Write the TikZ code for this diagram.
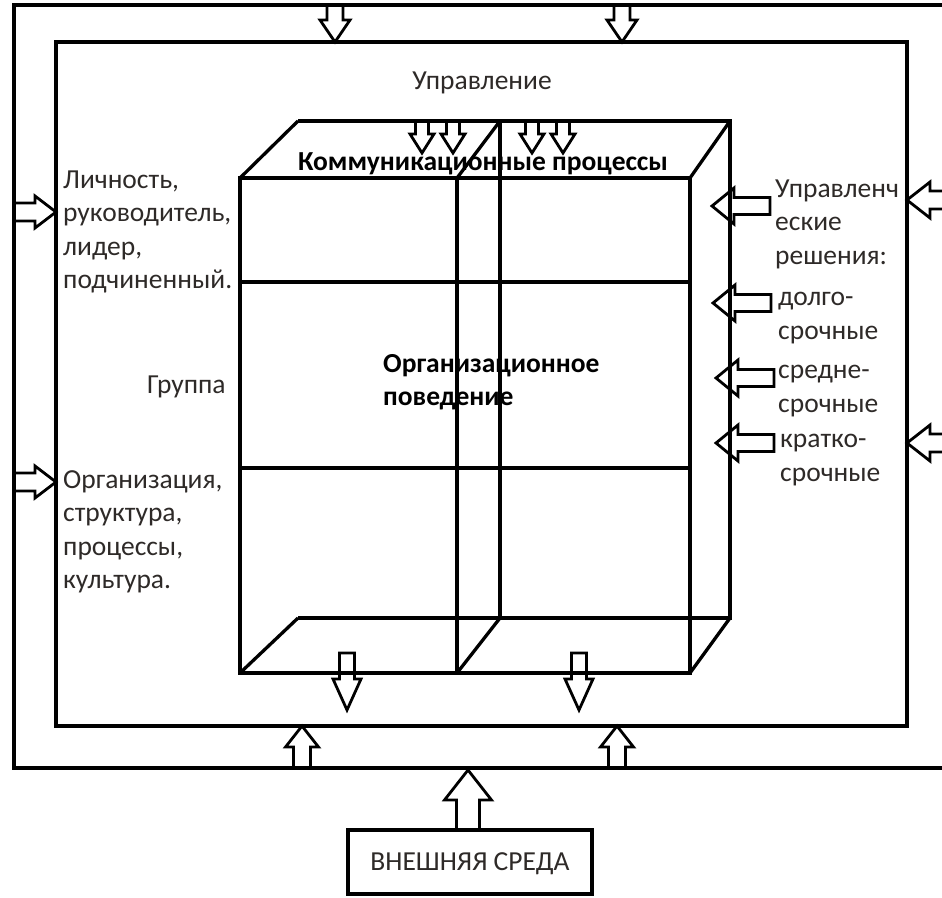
\documentclass[tikz,border=0pt]{standalone}
\usepackage{fontspec}
\setmainfont{Carlito}
\definecolor{txtgray}{HTML}{2E2A28}

\begin{document}
\begin{tikzpicture}[x=1pt, y=-1pt]
\tikzset{ln/.style={line width=3.3pt},
t/.style={inner sep=0pt, align=left, text=txtgray, font=\fontsize{27.5}{33.5}\selectfont},
bt/.style={inner sep=0pt, align=left, text=black, font=\bfseries\fontsize{27.5}{33.5}\selectfont},
pics/harr/.style args={#1/#2/#3/#4}{code={
  \draw[line width=2.8pt, line join=miter] (0,0) -- (-#3,#4) -- (-#3,#2) -- (-#1,#2) -- (-#1,-#2) -- (-#3,-#2) -- (-#3,-#4) -- cycle;}}};

\clip (0,0) rectangle (942,897);
\fill[white] (0,0) rectangle (942,897);

% frames
\draw[ln] (950,5) -- (14,5) -- (14,768) -- (950,768);
\draw[ln] (56,42) rectangle (907,726);

% cube
\draw[ln] (240,178) rectangle (690,673);
\draw[ln] (457,178) -- (457,673);
\draw[ln] (240,282) -- (690,282);
\draw[ln] (240,468) -- (690,468);
\draw[ln] (298,121) -- (730,121) -- (730,618) -- (298,618);
\draw[ln] (500,121) -- (500,618);
\foreach \a/\b in {240/298, 457/500, 690/730} {
	\draw[ln] (\a,178) -- (\b,121);
	\draw[ln] (\a,673) -- (\b,618);
}

% arrows
\foreach \x in {335,622} \pic[rotate=-90] at (\x,42) {harr=37/8/22/15};
\foreach \x in {422,453,532,563} \pic[rotate=-90] at (\x,153) {harr=32/6.5/19/12};
\foreach \y in {212,482} \pic at (56,\y) {harr=42/9/21/16};
\foreach \y in {200,443} \pic[rotate=180] at (907,\y) {harr=50/9/23/18};
\foreach \x/\y in {712/206, 713/303, 716/378, 716/443} \pic[rotate=180] at (\x,\y) {harr=58/8.5/22/18};
\foreach \x in {347,579} \pic[rotate=-90] at (\x,710) {harr=57/7.5/31/14};
\foreach \x in {302,617} \pic[rotate=90] at (\x,726) {harr=42/8.5/21/16.5};
\pic[rotate=90] at (468,770) {harr=60/11.5/30/23.5};

% outer environment
\draw[ln] (348,830) rectangle (592,894);
\node[t] (env) at (470,864) {ВНЕШНЯЯ СРЕДА};

% texts
\node[t] (upr) at (482,83) {Управление};
\node[bt] (comm) at (483,164) {Коммуникационные процессы};
\node[bt, anchor=west] (ob) at (383,382) {Организационное\\поведение};
\node[t, anchor=west] (grp) at (147,387) {Группа};
\node[t, anchor=west] (pers) at (63,232) {Личность,\\руководитель,\\лидер,\\подчиненный.};
\node[t, anchor=west] (org) at (63,532) {Организация,\\структура,\\процессы,\\культура.};
\node[t, anchor=west] (dec) at (775,224) {Управленч\\еские\\решения:};
\node[t, anchor=west] (long) at (778,318) {долго-\\срочные};
\node[t, anchor=west] (mid) at (778,391) {средне-\\срочные};
\node[t, anchor=west] (short) at (780,460) {кратко-\\срочные};

\end{tikzpicture}
\end{document}
